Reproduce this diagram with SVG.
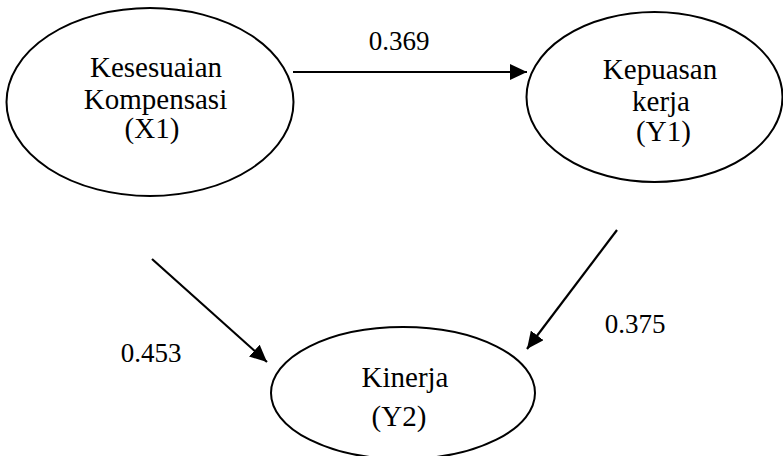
<svg xmlns="http://www.w3.org/2000/svg" width="783" height="456" viewBox="0 0 783 456">
<style>
.node ellipse{fill:#fff;stroke:#000;stroke-width:2}
text{font-family:'Liberation Serif','Times New Roman','DejaVu Serif',serif;fill:#000;text-anchor:middle}
.t{font-size:29px}
.n{font-size:27px}
.edge{stroke:#000;stroke-width:2.2;fill:none;marker-end:url(#ah)}
</style>
<defs>
<marker id="ah" markerUnits="userSpaceOnUse" markerWidth="17" markerHeight="16" refX="17" refY="8" orient="auto">
<path d="M0,0 L17,8 L0,16 Z" fill="#000"/>
</marker>
</defs>
<rect width="783" height="456" fill="#fff"/>
<g id="connectors">
<line class="edge" x1="293" y1="72" x2="527" y2="72"/>
<line class="edge" x1="152" y1="259" x2="267" y2="362"/>
<line class="edge" x1="617" y1="230" x2="527" y2="349"/>
</g>
<g id="labels" font-family="Liberation Serif, serif">
<text class="n" x="399" y="49.5">0.369</text>
<text class="n" x="151" y="361.5">0.453</text>
<text class="n" x="635" y="333">0.375</text>
</g>
<g id="X1" class="node">
<ellipse cx="150" cy="102" rx="143.5" ry="94"/>
<text class="t" x="156" y="76.5">Kesesuaian</text>
<text class="t" x="155.5" y="108.5">Kompensasi</text>
<text class="t" x="152" y="138">(X1)</text>
</g>
<g id="Y1" class="node">
<ellipse cx="654.5" cy="97" rx="128" ry="85"/>
<text class="t" x="660" y="79">Kepuasan</text>
<text class="t" x="661" y="111">kerja</text>
<text class="t" x="663.5" y="141">(Y1)</text>
</g>
<g id="Y2" class="node">
<ellipse cx="403" cy="393" rx="132" ry="66"/>
<text class="t" x="405" y="387">Kinerja</text>
<text class="t" x="399" y="426">(Y2)</text>
</g>
</svg>
